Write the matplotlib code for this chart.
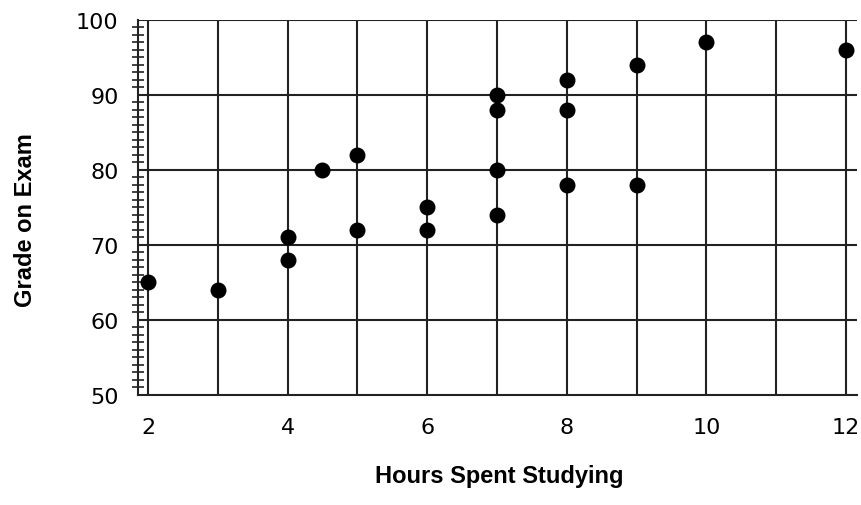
import matplotlib
matplotlib.use("Agg")
import matplotlib.pyplot as plt
from matplotlib.ticker import MultipleLocator

hours = [2, 3, 4, 4, 4.5, 5, 5, 6, 6, 7, 7, 7, 7, 8, 8, 8, 9, 9, 10, 12]
grades = [65, 64, 71, 68, 80, 82, 72, 75, 72, 90, 88, 80, 74, 92, 88, 78, 94, 78, 97, 96]
x_ticks = [2, 4, 6, 8, 10, 12]
y_ticks = [50, 60, 70, 80, 90, 100]

fig = plt.figure(figsize=(8.61, 5.06), dpi=100)
ax = fig.add_axes([0.1603, 0.2174, 0.9954 - 0.1603, 0.9585 - 0.2174])

ax.set_xlim(1.857, 12.16)
ax.set_ylim(50, 100)

# grid lines
for gx in range(2, 13):
    ax.axvline(gx, color='#222222', linewidth=1.5, zorder=1)
for gy in [60, 70, 80, 90, 100]:
    ax.axhline(gy, color='#222222', linewidth=1.5, zorder=1)

ax.scatter(hours, grades, s=110, color='black', zorder=3)

ax.spines['top'].set_visible(False)
ax.spines['right'].set_visible(False)
ax.spines['left'].set_linewidth(1.5)
ax.spines['bottom'].set_linewidth(1.5)
ax.spines['left'].set_color('#222222')
ax.spines['bottom'].set_color('#222222')

ax.set_xticks(x_ticks)
ax.set_yticks(y_ticks)
ax.yaxis.set_minor_locator(MultipleLocator(1))
ax.tick_params(axis='x', length=0, pad=16, labelsize=16)
ax.tick_params(axis='y', which='major', length=0, pad=14, labelsize=16)
ax.tick_params(axis='y', which='minor', direction='inout', length=9, width=1.2, color='#222222')

ax.set_xlabel('Hours Spent Studying', fontsize=17, fontweight='bold',
              family='Liberation Sans', labelpad=19)
ax.set_ylabel('Grade on Exam', fontsize=17, fontweight='bold',
              family='Liberation Sans', labelpad=28)
ax.xaxis.label.set_x(0.503)
ax.yaxis.label.set_y(0.469)

fig.savefig('out.png', dpi=100)
